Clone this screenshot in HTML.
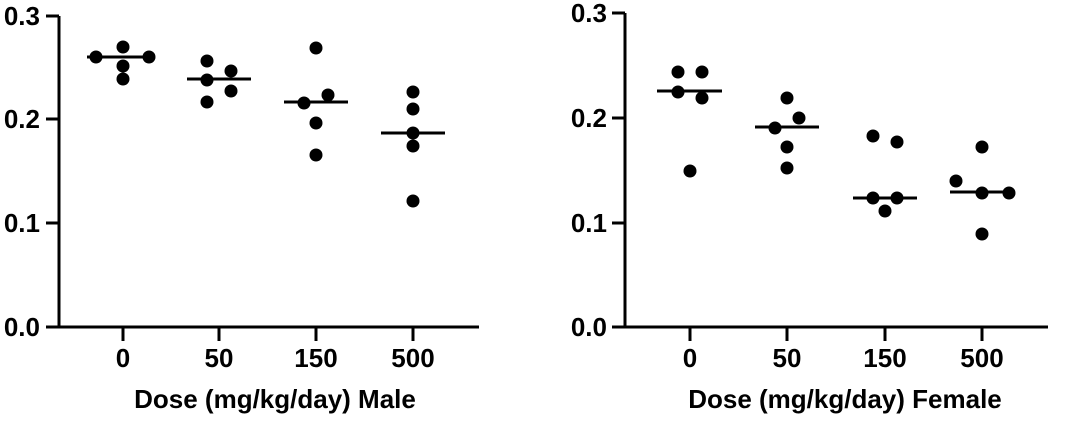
<!DOCTYPE html>
<html><head><meta charset="utf-8"><style>html,body{margin:0;padding:0;background:#fff}
svg text{font-family:"Liberation Sans",Arial,sans-serif;font-weight:bold;font-size:26px}</style></head>
<body>
<svg width="1080" height="427" xmlns="http://www.w3.org/2000/svg">
<g stroke="#000" stroke-width="3" fill="none">
<path d="M59,16 V327 M46,327 H479 M46,16 H59 M46,119 H59 M46,223 H59 M123,327 V341 M219,327 V341 M316,327 V341 M413,327 V341"/>
<path d="M87,57 H153 M187,79 H251 M284,102 H348 M381,133 H445"/>
<path d="M625,13 V327 M612,327 H1048 M612,13 H625 M612,118 H625 M612,223 H625 M690,327 V341 M787,327 V341 M885,327 V341 M982,327 V341"/>
<path d="M657,91 H722 M755,127 H819 M853,198 H917 M950,192 H1013"/>
</g>
<g fill="#000">
<circle cx="96" cy="57" r="6.5"/><circle cx="123" cy="47" r="6.5"/><circle cx="123" cy="66" r="6.5"/><circle cx="123" cy="79" r="6.5"/><circle cx="149" cy="57" r="6.5"/>
<circle cx="207" cy="61" r="6.5"/><circle cx="207" cy="80" r="6.5"/><circle cx="207" cy="102" r="6.5"/><circle cx="231" cy="71" r="6.5"/><circle cx="231" cy="91" r="6.5"/>
<circle cx="316" cy="48" r="6.5"/><circle cx="304" cy="103" r="6.5"/><circle cx="328" cy="95" r="6.5"/><circle cx="316" cy="123" r="6.5"/><circle cx="316" cy="155" r="6.5"/>
<circle cx="413" cy="92" r="6.5"/><circle cx="413" cy="109" r="6.5"/><circle cx="413" cy="133" r="6.5"/><circle cx="413" cy="146" r="6.5"/><circle cx="413" cy="201" r="6.5"/>
<circle cx="678" cy="72" r="6.5"/><circle cx="702" cy="72" r="6.5"/><circle cx="678" cy="92" r="6.5"/><circle cx="702" cy="98" r="6.5"/><circle cx="690" cy="171" r="6.5"/>
<circle cx="787" cy="98" r="6.5"/><circle cx="799" cy="118" r="6.5"/><circle cx="775" cy="128" r="6.5"/><circle cx="787" cy="147" r="6.5"/><circle cx="787" cy="168" r="6.5"/>
<circle cx="873" cy="136" r="6.5"/><circle cx="897" cy="142" r="6.5"/><circle cx="873" cy="198" r="6.5"/><circle cx="897" cy="198" r="6.5"/><circle cx="885" cy="211" r="6.5"/>
<circle cx="982" cy="147" r="6.5"/><circle cx="956" cy="181" r="6.5"/><circle cx="982" cy="193" r="6.5"/><circle cx="1009" cy="193" r="6.5"/><circle cx="982" cy="234" r="6.5"/>
</g>
<g text-anchor="end">
<text x="40" y="25">0.3</text><text x="40" y="128">0.2</text><text x="40" y="232">0.1</text><text x="40" y="336">0.0</text>
<text x="607" y="22">0.3</text><text x="607" y="127">0.2</text><text x="607" y="232">0.1</text><text x="607" y="336">0.0</text>
</g>
<g text-anchor="middle">
<text x="123" y="367">0</text><text x="219" y="367">50</text><text x="316" y="367">150</text><text x="413" y="367">500</text>
<text x="690" y="367">0</text><text x="787" y="367">50</text><text x="885" y="367">150</text><text x="982" y="367">500</text>
<text x="275" y="408">Dose (mg/kg/day) Male</text>
<text x="845" y="408">Dose (mg/kg/day) Female</text>
</g>
</svg>
</body></html>
